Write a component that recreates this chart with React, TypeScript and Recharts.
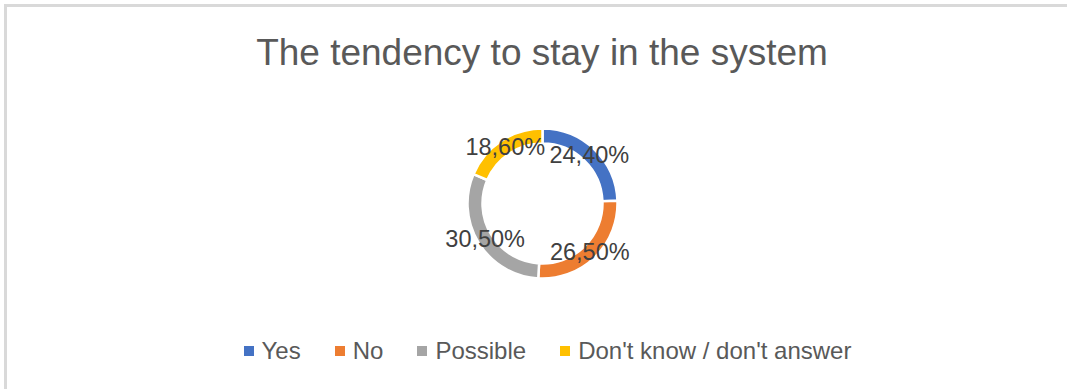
import { PieChart, Pie, Cell, Legend } from "recharts";

const categories = ["Yes", "No", "Possible", "Don't know / don't answer"];
const shares = [24.4, 26.5, 30.5, 18.6];
const colors = ["#4472C4", "#ED7D31", "#A5A5A5", "#FFC000"];

const data = categories.map((name, i) => ({ name, value: shares[i] }));

const FONT = "'Liberation Sans', Arial, sans-serif";
const RADIAN = Math.PI / 180;

const fmt = (v: number) => `${v.toFixed(2).replace(".", ",")}%`;

function renderLabel(props: any) {
  const { cx, cy, midAngle, innerRadius, outerRadius, value } = props;
  const r = (innerRadius + outerRadius) / 2;
  const x = cx + r * Math.cos(-midAngle * RADIAN);
  const y = cy + r * Math.sin(-midAngle * RADIAN);
  return (
    <text
      x={x}
      y={y}
      fill="#404040"
      fontSize={23.5}
      fontFamily={FONT}
      textAnchor="middle"
      dominantBaseline="central"
    >
      {fmt(value)}
    </text>
  );
}

function LegendContent() {
  return (
    <div
      style={{
        display: "flex",
        justifyContent: "center",
        alignItems: "center",
        fontFamily: FONT,
        fontSize: 24,
        color: "#595959",
      }}
    >
      {categories.map((c, i) => (
        <div key={c} style={{ display: "flex", alignItems: "center", marginRight: i < categories.length - 1 ? 34 : 0 }}>
          <span style={{ width: 10, height: 10, background: colors[i], marginRight: 8, display: "inline-block" }} />
          <span>{c}</span>
        </div>
      ))}
    </div>
  );
}

export default function App() {
  return (
    <div
      style={{
        position: "fixed",
        left: 0,
        top: 0,
        width: 1067,
        height: 389,
        background: "#fff",
        overflow: "hidden",
      }}
    >
      <div
        style={{
          position: "absolute",
          left: 4,
          top: 4,
          width: 1100,
          height: 400,
          borderTop: "3px solid #d9d9d9",
          borderLeft: "3px solid #d9d9d9",
        }}
      />
      <div
        style={{
          position: "absolute",
          left: 0,
          top: 31,
          width: 1084,
          textAlign: "center",
          fontFamily: FONT,
          fontSize: 37,
          color: "#595959",
          lineHeight: "44px",
        }}
      >
        The tendency to stay in the system
      </div>
      <div style={{ position: "absolute", left: 0, top: 0 }}>
        <PieChart width={1067} height={389} margin={{ top: 0, right: 0, bottom: 0, left: 0 }}>
          <Pie
            data={data}
            dataKey="value"
            nameKey="name"
            cx={542.5}
            cy={203.5}
            innerRadius={60}
            outerRadius={75}
            startAngle={90}
            endAngle={-270}
            stroke="#fff"
            strokeWidth={2.5}
            label={renderLabel}
            labelLine={false}
            isAnimationActive={false}
          >
            {data.map((d, i) => (
              <Cell key={d.name} fill={colors[i]} />
            ))}
          </Pie>
          <Legend
            content={LegendContent}
            wrapperStyle={{ top: 337, left: 0, width: 1095 }}
          />
        </PieChart>
      </div>
    </div>
  );
}
